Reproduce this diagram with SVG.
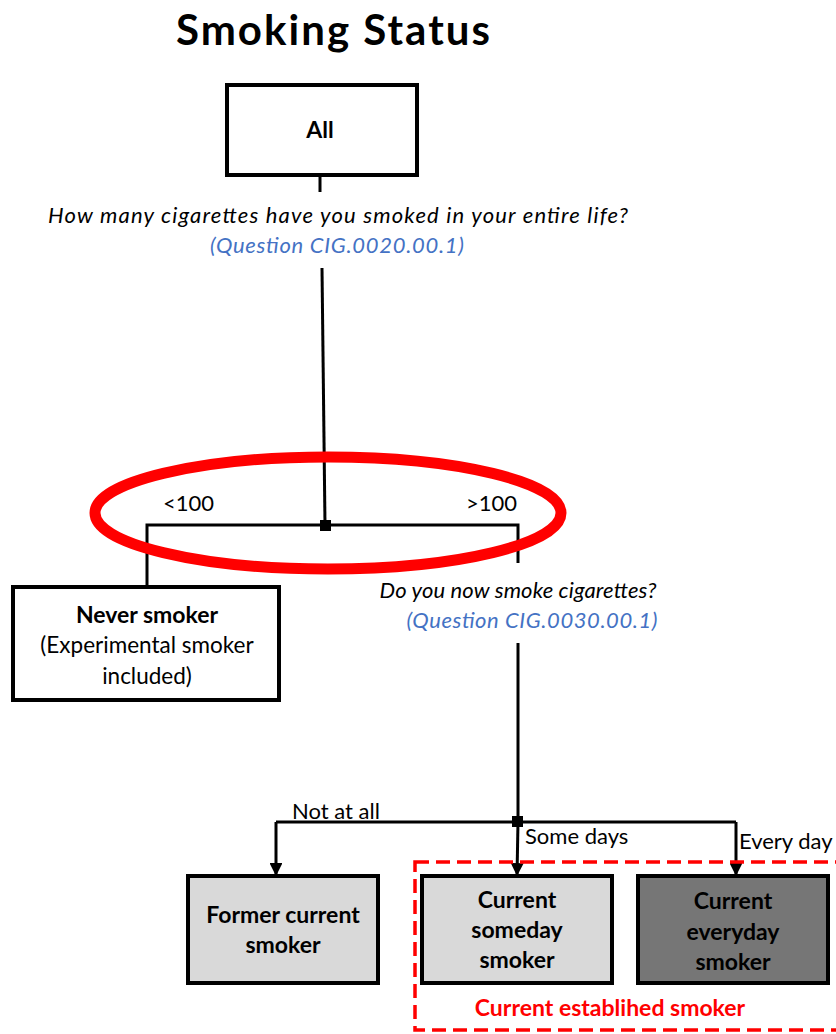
<svg xmlns="http://www.w3.org/2000/svg" width="836" height="1034" viewBox="0 0 836 1034">
  <style>
    text { font-family: Lato, "Open Sans", sans-serif; fill: #000; }
    .title { font-size: 42px; font-weight: bold; }
    .q { font-size: 22px; font-style: italic; }
    .ref { font-size: 22px; font-style: italic; fill: #4472c4; }
    .lbl { font-size: 22px; }
    .node { font-size: 22.5px; }
    .b { font-weight: bold; font-size: 23px; }
    .box { stroke: #000; stroke-width: 4; }
    .edge { fill: none; stroke: #000; stroke-width: 3; }
  </style>
  <defs>
    <marker id="arrow" viewBox="0 0 10 10" refX="10" refY="5" markerWidth="4.3" markerHeight="4.3" orient="auto">
      <path d="M0,0 L10,5 L0,10 Z" fill="#000"/>
    </marker>
  </defs>

  <rect width="836" height="1034" fill="#fff"/>

  <text class="title" x="333" y="45" text-anchor="middle" textLength="314">Smoking Status</text>

  <!-- connectors -->
  <g id="connectors">
    <path class="edge" d="M320,175 V192"/>
    <path class="edge" d="M322,268 L325,525"/>
    <path class="edge" d="M147,587 V525 H518 V563"/>
    <rect x="320" y="520" width="11" height="11" fill="#000"/>
    <path class="edge" d="M518,643 V822"/>
    <path class="edge" d="M276,822 H736"/>
    <path class="edge" d="M276,822 V876" marker-end="url(#arrow)"/>
    <path class="edge" d="M518,822 L517,876" marker-end="url(#arrow)"/>
    <path class="edge" d="M736,822 V876" marker-end="url(#arrow)"/>
    <rect x="512" y="816" width="11" height="11" fill="#000"/>
  </g>

  <!-- questions and branch labels -->
  <g id="question-1">
    <text class="q" x="338" y="223" text-anchor="middle" textLength="580">How many cigarettes have you smoked in your entire life?</text>
    <text class="ref" x="337" y="253" text-anchor="middle" textLength="254">(Question CIG.0020.00.1)</text>
  </g>
  <g id="question-2">
    <text class="q" x="518" y="598" text-anchor="middle" textLength="277">Do you now smoke cigarettes?</text>
    <text class="ref" x="532" y="628" text-anchor="middle" textLength="251">(Question CIG.0030.00.1)</text>
  </g>
  <g id="branch-labels">
    <text class="lbl" x="163" y="511">&lt;100</text>
    <text class="lbl" x="517" y="511" text-anchor="end">&gt;100</text>
    <text class="lbl" x="292" y="819">Not at all</text>
    <text class="lbl" x="525" y="844">Some days</text>
    <text class="lbl" x="739" y="849">Every day</text>
  </g>

  <!-- nodes -->
  <g id="node-all">
    <rect class="box" x="227" y="85" width="190" height="90" fill="#fff"/>
    <text class="node b" x="320" y="138" text-anchor="middle">All</text>
  </g>

  <g id="node-never">
    <rect class="box" x="13" y="587" width="266" height="113" fill="#fff"/>
    <text class="node b" x="147" y="623" text-anchor="middle">Never smoker</text>
    <text class="node" x="147" y="653" text-anchor="middle">(Experimental smoker</text>
    <text class="node" x="147" y="684" text-anchor="middle">included)</text>
  </g>

  <g id="node-former">
    <rect class="box" x="188" y="876" width="190" height="107" fill="#d9d9d9"/>
    <text class="node b" x="283" y="923" text-anchor="middle">Former current</text>
    <text class="node b" x="283" y="953" text-anchor="middle">smoker</text>
  </g>

  <g id="node-someday">
    <rect class="box" x="422" y="876" width="190" height="107" fill="#d9d9d9"/>
    <text class="node b" x="517" y="908" text-anchor="middle">Current</text>
    <text class="node b" x="517" y="938" text-anchor="middle">someday</text>
    <text class="node b" x="517" y="968" text-anchor="middle">smoker</text>
  </g>

  <g id="node-everyday">
    <rect class="box" x="638" y="876" width="190" height="107" fill="#767676"/>
    <text class="node b" x="733" y="909" text-anchor="middle">Current</text>
    <text class="node b" x="733" y="940" text-anchor="middle">everyday</text>
    <text class="node b" x="733" y="970" text-anchor="middle">smoker</text>
  </g>

  <!-- highlight of the first split -->
  <ellipse cx="328" cy="513" rx="233" ry="56" fill="none" stroke="#ff0000" stroke-width="11"/>

  <!-- established smoker group -->
  <g id="group-established">
    <rect x="415" y="862" width="425" height="168" fill="none" stroke="#ff0000" stroke-width="3.5" stroke-dasharray="14,7"/>
    <text class="node b" x="610" y="1016" text-anchor="middle" style="fill:#ff0000">Current establihed smoker</text>
  </g>
</svg>
